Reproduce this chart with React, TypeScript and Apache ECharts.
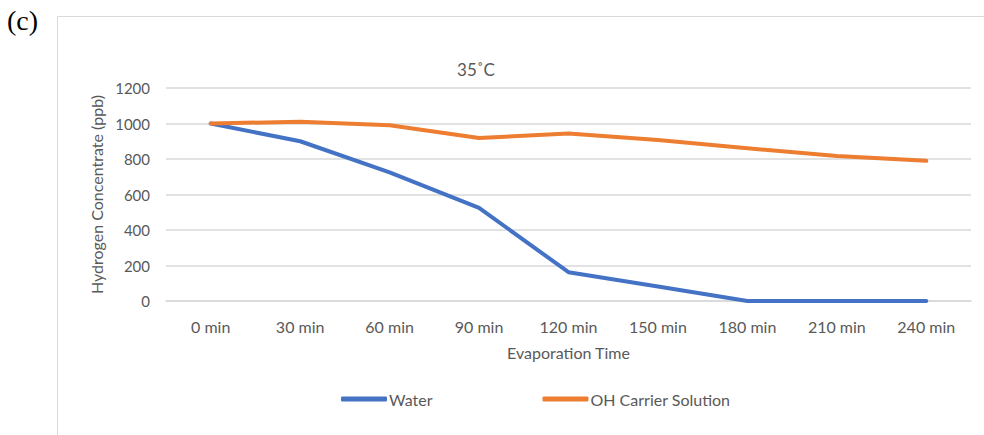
import React, { useEffect, useRef } from "react";
import * as echarts from "echarts";

const categories = ["0 min", "30 min", "60 min", "90 min", "120 min", "150 min", "180 min", "210 min", "240 min"];
const waterValues = [1000, 900, 725, 525, 162, 82, 0, 0, 0];
const ohValues = [1000, 1010, 990, 918, 943, 907, 860, 817, 790];
const yTicks = [0, 200, 400, 600, 800, 1000, 1200];

export default function App() {
  const ref = useRef<HTMLDivElement>(null);
  useEffect(() => {
    if (!ref.current) return;
    const chart = echarts.init(ref.current, null, { renderer: "svg" });
    const font = "Lato, 'Open Sans', sans-serif";
    chart.setOption({
      animation: false,
      backgroundColor: "#ffffff",
      title: {
        text: "35˚C",
        left: 471,
        top: 56,
        textAlign: "center",
        textStyle: { fontFamily: font, fontSize: 17, fontWeight: "normal", color: "#595959" },
      },
      graphic: [
        {
          type: "rect",
          shape: { x: 57.5, y: 16.5, width: 1000, height: 500 },
          style: { fill: "none", stroke: "#d9d9d9", lineWidth: 1 },
          silent: true,
        },
        {
          type: "text",
          left: 7,
          top: 6,
          style: { text: "(c)", font: "28px 'Liberation Serif', 'Times New Roman', serif", fill: "#000" },
        },
      ],
      legend: {
        data: ["Water", "OH Carrier Solution"],
        left: 336,
        top: 386,
        icon: "roundRect",
        itemWidth: 46,
        itemHeight: 5,
        itemGap: 110,
        textStyle: { fontFamily: font, fontSize: 16, color: "#595959", padding: [0, 0, 0, -3] },
      },
      grid: { left: 166, right: 13, top: 88, bottom: 134, containLabel: false },
      xAxis: {
        type: "category",
        data: categories,
        boundaryGap: true,
        name: "Evaporation Time",
        nameLocation: "middle",
        nameGap: 43,
        nameTextStyle: { fontFamily: font, fontSize: 16, color: "#595959" },
        axisLine: { lineStyle: { color: "#d9d9d9", width: 1.5 } },
        axisTick: { show: false },
        axisLabel: { fontFamily: font, fontSize: 16, color: "#595959", margin: 17 },
      },
      yAxis: {
        type: "value",
        min: 0,
        max: 1200,
        interval: 200,
        name: "Hydrogen Concentrate (ppb)",
        nameLocation: "middle",
        nameGap: 62,
        nameTextStyle: { fontFamily: font, fontSize: 16, color: "#595959" },
        axisLine: { show: false },
        axisTick: { show: false },
        axisLabel: {
          fontFamily: font,
          fontSize: 15,
          color: "#595959",
          margin: 16,
          formatter: (v: number) => (yTicks.includes(v) ? String(v) : ""),
        },
        splitLine: { lineStyle: { color: "#d9d9d9", width: 1.5 } },
      },
      series: [
        {
          name: "Water",
          type: "line",
          data: waterValues,
          symbol: "none",
          lineStyle: { color: "#4472C4", width: 4, cap: "round", join: "round" },
          itemStyle: { color: "#4472C4" },
        },
        {
          name: "OH Carrier Solution",
          type: "line",
          data: ohValues,
          symbol: "none",
          lineStyle: { color: "#ED7D31", width: 4, cap: "round", join: "round" },
          itemStyle: { color: "#ED7D31" },
        },
      ],
    });
    return () => chart.dispose();
  }, []);
  return <div ref={ref} style={{ position: "absolute", left: 0, top: 0, width: 984, height: 435 }} />;
}
